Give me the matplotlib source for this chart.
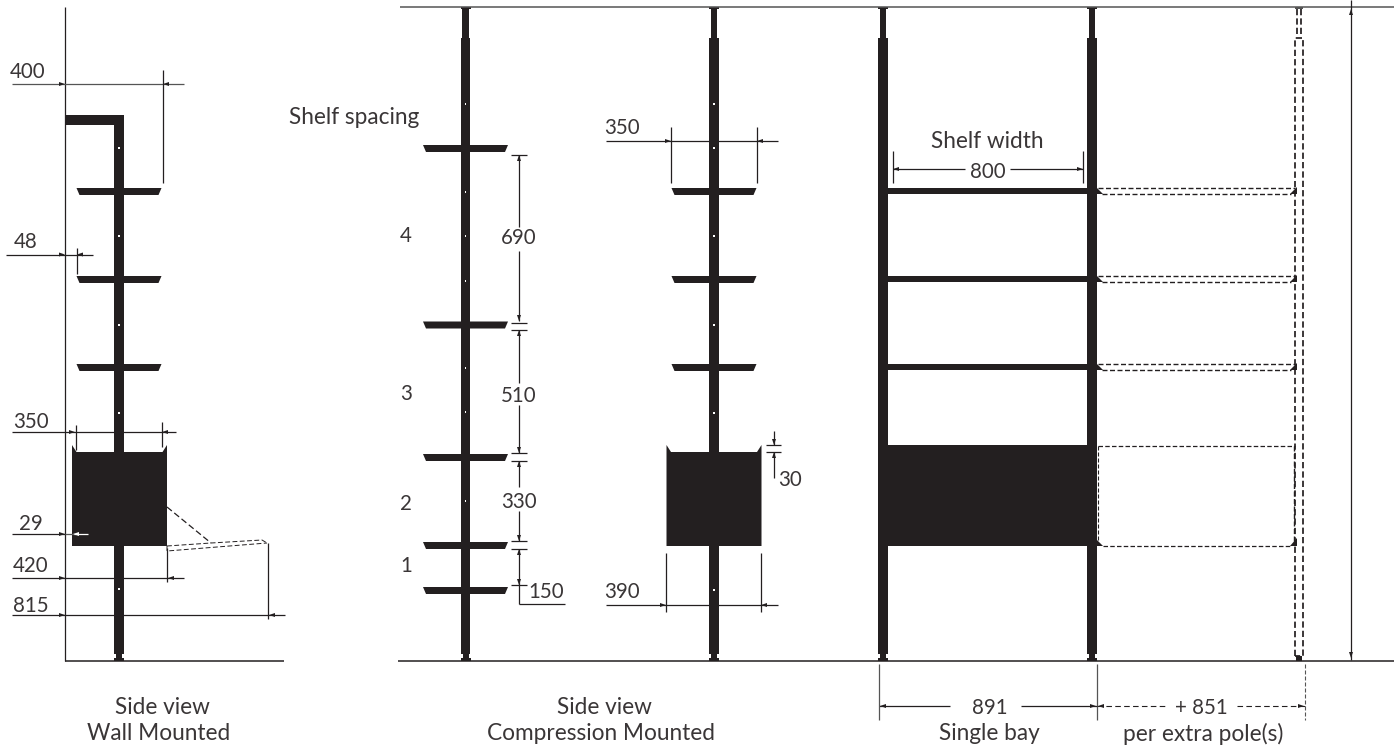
import matplotlib
matplotlib.use("Agg")
import matplotlib.pyplot as plt
from matplotlib.patches import Polygon, Rectangle

INK = "#231f20"
GREY = "#555555"
TEXT = "#3a3637"

# ---- drawing values (pixel space of the drawing) ----
ceiling_y = 7
floor_y = 660.5
side_shelf_tops = [188, 276, 364]
spacing_shelf_tops = [145, 321.5, 454, 542, 587]
bay_shelf_tops = [188, 276, 364]
bin_top, bin_bottom = 452, 546
wall_pole_x = 119
spacing_pole_x = 465.5
bin_pole_x = 714
bay_pole_xs = [883, 1092]
extra_pole_x = 1299
wall_holes = [148, 236, 325, 413, 589]
spacing_holes = [104, 192, 236, 281, 368, 412, 501]
bin_pole_holes = [104, 148, 236, 325, 413, 590]

# start, end, y, extension lines (x, y0, y1), arrow tips (x, direction)
horizontal_dims = [
    (12, 184, 84, [(162.5, 70, 183)], [(65, 1), (163, -1)]),
    (6, 93, 254.5, [(76.5, 248, 274)], [(65, 1), (77, -1)]),
    (12, 176, 432, [(76, 425, 450), (162, 422, 447)], [(75, 1), (162, -1)]),
    (12, 65, 534, [], [(65, 1)]),
    (12, 184, 578, [(167, 548, 582)], [(65, 1), (168, -1)]),
    (12, 285, 615, [(268, 543, 619)], [(65, 1), (269, -1)]),
    (606, 778, 141, [(671, 127, 183), (757, 127, 183)], [(671, 1), (757, -1)]),
    (606, 778, 605, [(666, 553, 612), (761, 553, 612)], [(666, 1), (761, -1)]),
    (893, 965, 169, [(893, 151, 183), (1083, 151, 183)], [(893, -1)]),
    (1010, 1083, 169, [], [(1083, 1)]),
    (879, 950, 706, [(879, 664, 720), (1097, 664, 720)], [(880, -1)]),
    (1021, 1097, 706, [], [(1096, 1)]),
]
# x, y0, y1, arrow tips (y, direction)
vertical_dims = [
    (519, 155, 227, [(155, -1)]),
    (519, 251, 321, [(321, 1)]),
    (519, 330, 383, [(330, -1)]),
    (519, 405, 453, [(453, 1)]),
    (519, 461, 487, [(461, -1)]),
    (519, 511, 541, [(541, 1)]),
    (519, 549, 604, [(549, -1), (585, 1)]),
    (774, 431, 445, [(445, 1)]),
    (774, 452, 478, [(452, -1)]),
    (1351, 0, 660, [(9, -1), (658, 1)]),
]
# tick x0, x1, y
dim_ticks = [
    (511, 527, 154.5), (511, 527, 322.5), (511, 527, 329.5), (511, 527, 453),
    (511, 527, 461), (511, 527, 541), (511, 527, 549), (511, 527, 585),
    (519, 565, 604), (766, 781, 445), (766, 781, 452),
]
number_labels = [
    ("400", 28, 70), ("48", 26, 240), ("350", 31, 420), ("29", 31, 522),
    ("420", 31, 565), ("815", 31, 604), ("690", 519, 237), ("510", 519, 394),
    ("330", 519, 500), ("150", 546, 590), ("350", 622, 127), ("390", 622, 591),
    ("30", 790, 479), ("800", 988, 170), ("891", 990, 706), ("+ 851", 1201, 706),
    ("4", 406, 235), ("3", 406, 392), ("2", 406, 502), ("1", 406, 564),
]
word_labels = [
    ("Shelf spacing", 354, 116), ("Shelf width", 987, 140),
    ("Side view", 162, 706), ("Wall Mounted", 159, 733),
    ("Side view", 604, 706), ("Compression Mounted", 601, 733),
    ("Single bay", 989, 733), ("per extra pole(s)", 1203, 733),
]

plt.rcParams["font.family"] = ["Lato", "DejaVu Sans"]
fig = plt.figure(figsize=(13.94, 7.49), dpi=100)
ax = fig.add_axes([0, 0, 1, 1])
ax.set_xlim(0, 1394)
ax.set_ylim(749, 0)
ax.axis("off")


def rect(x0, y0, x1, y1, color=INK, z=2):
    ax.add_patch(Rectangle((x0, y0), x1 - x0, y1 - y0, fc=color, ec="none", zorder=z))


def line(xs, ys, lw=0.9, color=INK, ls="-", z=3):
    ax.plot(xs, ys, color=color, lw=lw, ls=ls, zorder=z, solid_capstyle="butt",
            dash_capstyle="butt")


def harrow(x, y, d, color=INK):
    # d=1 : tip at x, pointing right ; d=-1 : tip at x, pointing left
    ax.add_patch(Polygon([(x, y), (x - d * 6, y - 2), (x - d * 6, y + 2)],
                         fc=color, ec="none", zorder=6))


def varrow(x, y, d, color=INK):
    ax.add_patch(Polygon([(x, y), (x - 2, y - d * 6), (x + 2, y - d * 6)],
                         fc=color, ec="none", zorder=4))


def foot(x):
    rect(x - 3, 654, x + 3, floor_y)
    rect(x - 5, 658, x + 5, floor_y)


def full_pole(x):
    rect(x - 3.3, ceiling_y, x + 3.3, 38)
    rect(x - 5, ceiling_y, x + 5, ceiling_y + 2)
    rect(x - 4.8, 37.5, x + 4.8, 654)
    foot(x)


def shelf(x, top):
    ax.add_patch(Polygon([(x - 42.5, top), (x + 42.5, top), (x + 39.5, top + 7),
                          (x - 39.5, top + 7)], fc=INK, ec="none", zorder=2))


def holes(x, ys):
    for y in ys:
        rect(x - 0.8, y - 1, x + 0.8, y + 1, color="white", z=5)


def bin_side(x):
    ax.add_patch(Polygon([
        (x - 47.5, 445), (x - 43, bin_top), (x + 43, bin_top), (x + 47.5, 445),
        (x + 47.5, bin_bottom), (x - 47.5, bin_bottom)], fc=INK, ec="none", zorder=2))


# ceiling, floors, wall
line([400, 1394], [ceiling_y, ceiling_y], lw=1.1, color=GREY)
line([398, 1394], [floor_y, floor_y], lw=1.1)
line([65, 65], [7, floor_y], lw=0.9)
line([65, 284], [floor_y, floor_y], lw=1.1)

# wall mounted
rect(wall_pole_x - 4.8, 115, wall_pole_x + 4.8, 654)
rect(65, 115, wall_pole_x + 4.8, 124.5)
foot(wall_pole_x)
for t in side_shelf_tops:
    shelf(wall_pole_x, t)
bin_side(wall_pole_x + 0.5)
holes(wall_pole_x, wall_holes)
line([167, 211], [507, 543], lw=0.9, ls=(0, (5, 2.5)))
line([167, 211, 262, 267], [546, 543, 540, 543], lw=0.7, ls=(0, (5, 2.5)))
line([167, 167, 267], [546, 551, 543], lw=0.7, ls=(0, (5, 2.5)))

# shelf-spacing pole
full_pole(spacing_pole_x)
for t in spacing_shelf_tops:
    shelf(spacing_pole_x, t)
holes(spacing_pole_x, spacing_holes)

# pole with bin
full_pole(bin_pole_x)
for t in side_shelf_tops:
    shelf(bin_pole_x, t)
bin_side(bin_pole_x)
holes(bin_pole_x, bin_pole_holes)

# front view
for x in bay_pole_xs:
    full_pole(x)
dash = (0, (3.6, 1.8))
for t in bay_shelf_tops:
    rect(bay_pole_xs[0], t, bay_pole_xs[1], t + 6)
    ax.add_patch(Polygon([(1097, t), (1103, t + 6), (1097, t + 6)], fc=INK, ec="none"))
    ax.add_patch(Polygon([(1296.5, t - 1), (1296.5, t + 6), (1290, t + 6)], fc=INK,
                         ec="none", zorder=4))
    line([1098, 1295], [t, t], lw=1.0, ls=dash)
    line([1102, 1291], [t + 6, t + 6], lw=1.0, ls=dash)
rect(bay_pole_xs[0] + 5.4, 445, bay_pole_xs[1], bin_bottom)
ax.add_patch(Polygon([(1097, 540), (1103, 546), (1097, 546)], fc=INK, ec="none"))
ax.add_patch(Polygon([(1296.5, 538), (1296.5, 546), (1290, 546)], fc=INK, ec="none",
                     zorder=4))
line([1098, 1295], [445.5, 445.5], lw=0.9, ls=dash)
line([1103, 1291], [545.5, 545.5], lw=0.9, ls=dash)
line([1294, 1294], [446, 541], lw=1.0, ls=dash)
line([1098, 1098], [446, 540], lw=0.8, ls=dash)

# dashed extra pole
line([1295, 1295, 1303, 1303, 1295], [656, 38, 38, 656, 656], lw=1.25, ls=dash)
line([1297, 1297], [9, 37], lw=1.25, ls=dash)
line([1300.5, 1300.5], [9, 37], lw=1.25, ls=dash)
rect(1295, ceiling_y, 1303, ceiling_y + 2, color=GREY)
rect(1296, 656, 1302, floor_y)
line([1305, 1305], [664, 720], lw=0.8, color=GREY, ls=dash)
line([1097, 1165], [706, 706], lw=0.8, ls=(0, (5, 3)))
line([1237, 1305], [706, 706], lw=0.8, ls=(0, (5, 3)))
harrow(1098, 706, -1)
harrow(1304, 706, 1)

# dimensions
for x0, x1, y, exts, tips in horizontal_dims:
    line([x0, x1], [y, y], lw=0.9, color=GREY if y in (84,) else INK)
    for ex, e0, e1 in exts:
        line([ex, ex], [e0, e1], lw=0.9, color=GREY if ex in (879, 1097) else INK)
    for tx, d in tips:
        harrow(tx, y, d)
line([65, 74], [534, 534], lw=0.9, color=GREY)
line([74, 88], [534, 534], lw=0.9, color="white", z=5)
harrow(73, 534, -1, color="white")

for x, y0, y1, tips in vertical_dims:
    line([x, x], [y0, y1], lw=0.9)
    for ty, d in tips:
        varrow(x, ty, d)
for x0, x1, y in dim_ticks:
    line([x0, x1], [y, y], lw=0.9)

# texts
for s, x, y in number_labels:
    ax.text(x, y + 1.5, s, ha="center", va="center", fontsize=14.8, color=TEXT, zorder=6)
for s, x, y in word_labels:
    ax.text(x, y + 1, s, ha="center", va="center", fontsize=16.3, color=TEXT, zorder=6)

fig.savefig("out.png", dpi=100, facecolor="white")
